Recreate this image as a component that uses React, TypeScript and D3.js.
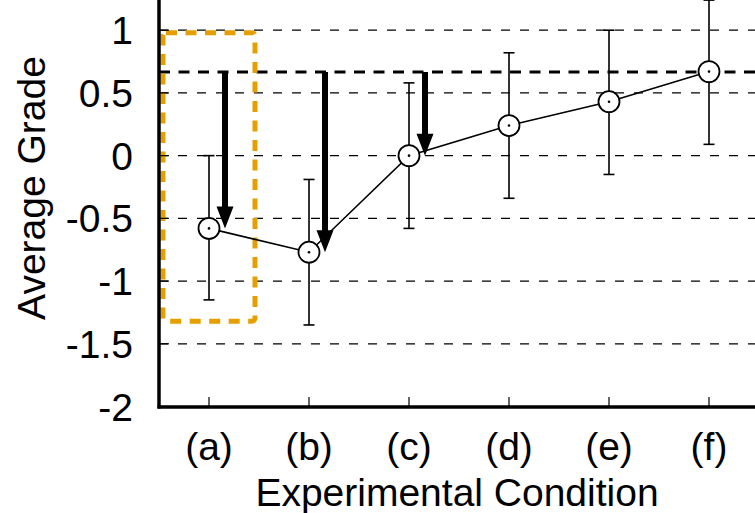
import React from "react";
import * as d3 from "d3";

const categories = ["(a)", "(b)", "(c)", "(d)", "(e)", "(f)"];
const means = [-0.58, -0.77, 0.0, 0.24, 0.43, 0.67];
const upper = [0.0, -0.19, 0.58, 0.82, 1.0, 1.24];
const lower = [-1.15, -1.35, -0.58, -0.34, -0.15, 0.09];
const referenceValue = 0.667;
const arrowCategories = ["(a)", "(b)", "(c)"];
const yTicks = [-2, -1.5, -1, -0.5, 0, 0.5, 1];
const gridValues = [-1.5, -1, -0.5, 0, 0.5, 1];
const highlightCategory = "(a)";
const highlightRange = [-1.32, 0.98];

const W = 755;
const H = 513;
const FONT = "'Liberation Sans', Arial, Helvetica, sans-serif";

export default function App() {
  const axisX = 159;
  const axisY = 407;
  const y = d3.scaleLinear().domain([-2, 1]).range([406.5, 30.2]);
  const x = d3.scalePoint<string>().domain(categories).range([209, 709]);

  const line = d3
    .line<number>()
    .x((_, i) => x(categories[i])!)
    .y((d) => y(d));

  const arrowPath = (cx: number, y0: number, y1: number) => {
    const sw = 3;
    const hw = 8.5;
    const hl = 22;
    return `M${cx - sw},${y0} L${cx + sw},${y0} L${cx + sw},${y1 - hl} L${cx + hw},${y1 - hl} L${cx},${y1} L${cx - hw},${y1 - hl} L${cx - sw},${y1 - hl} Z`;
  };

  const hx = x(highlightCategory)!;

  return (
    <svg
      width={W}
      height={H}
      style={{ position: "absolute", left: 0, top: 0, background: "#fff" }}
      fontFamily={FONT}
    >
      <rect width={W} height={H} fill="#fff" />
      {/* grid */}
      {gridValues.map((v) => (
        <line
          key={v}
          x1={axisX}
          x2={W}
          y1={y(v)}
          y2={y(v)}
          stroke="#000"
          strokeWidth={1.3}
          strokeDasharray="9 10"
        />
      ))}
      <line
        x1={axisX}
        x2={W}
        y1={y(referenceValue)}
        y2={y(referenceValue)}
        stroke="#000"
        strokeWidth={3}
        strokeDasharray="11 8.5"
      />
      {/* highlight box */}
      <rect
        x={hx - 46}
        y={y(highlightRange[1])}
        width={92}
        height={y(highlightRange[0]) - y(highlightRange[1])}
        rx={3}
        fill="none"
        stroke="#e69f00"
        strokeWidth={5}
        strokeDasharray="11 8.5"
      />
      {/* axes */}
      <line x1={axisX} x2={axisX} y1={0} y2={axisY + 1.5} stroke="#000" strokeWidth={3.5} />
      <line x1={axisX - 1.5} x2={W} y1={axisY} y2={axisY} stroke="#000" strokeWidth={3.5} />
      {yTicks.map((t) => (
        <g key={t}>
          <line x1={axisX} x2={axisX + 10} y1={y(t)} y2={y(t)} stroke="#000" strokeWidth={1.2} />
          <text
            x={133}
            y={y(t)}
            dy="0.36em"
            textAnchor="end"
            fontSize={39}
            fill="#000"
          >
            {t}
          </text>
        </g>
      ))}
      {categories.map((c) => (
        <g key={c}>
          <line x1={x(c)} x2={x(c)} y1={axisY} y2={axisY - 10} stroke="#000" strokeWidth={1.2} />
          <text x={x(c)} y={460} textAnchor="middle" fontSize={39} fill="#000">
            {c}
          </text>
        </g>
      ))}
      <text x={457} y={506} textAnchor="middle" fontSize={39} fill="#000">
        Experimental Condition
      </text>
      <text
        transform={`translate(45,188) rotate(-90)`}
        textAnchor="middle"
        fontSize={39}
        fill="#000"
      >
        Average Grade
      </text>
      {/* error bars */}
      {categories.map((c, i) => (
        <g key={"e" + c} stroke="#000" strokeWidth={1.6}>
          <line x1={x(c)} x2={x(c)} y1={y(upper[i])} y2={y(lower[i])} />
          <line x1={x(c)! - 5.5} x2={x(c)! + 5.5} y1={y(upper[i])} y2={y(upper[i])} />
          <line x1={x(c)! - 5.5} x2={x(c)! + 5.5} y1={y(lower[i])} y2={y(lower[i])} />
        </g>
      ))}
      <path d={line(means)!} fill="none" stroke="#000" strokeWidth={1.6} />
      {categories.map((c, i) => (
        <g key={"p" + c}>
          <circle cx={x(c)} cy={y(means[i])} r={10.5} fill="#fff" stroke="#000" strokeWidth={1.8} />
          <circle cx={x(c)} cy={y(means[i])} r={1.3} fill="#000" />
        </g>
      ))}
      {/* arrows */}
      {arrowCategories.map((c) => {
        const i = categories.indexOf(c);
        return (
          <path
            key={"a" + c}
            d={arrowPath(x(c)! + 16, y(referenceValue), y(means[i]))}
            fill="#000"
          />
        );
      })}
    </svg>
  );
}
